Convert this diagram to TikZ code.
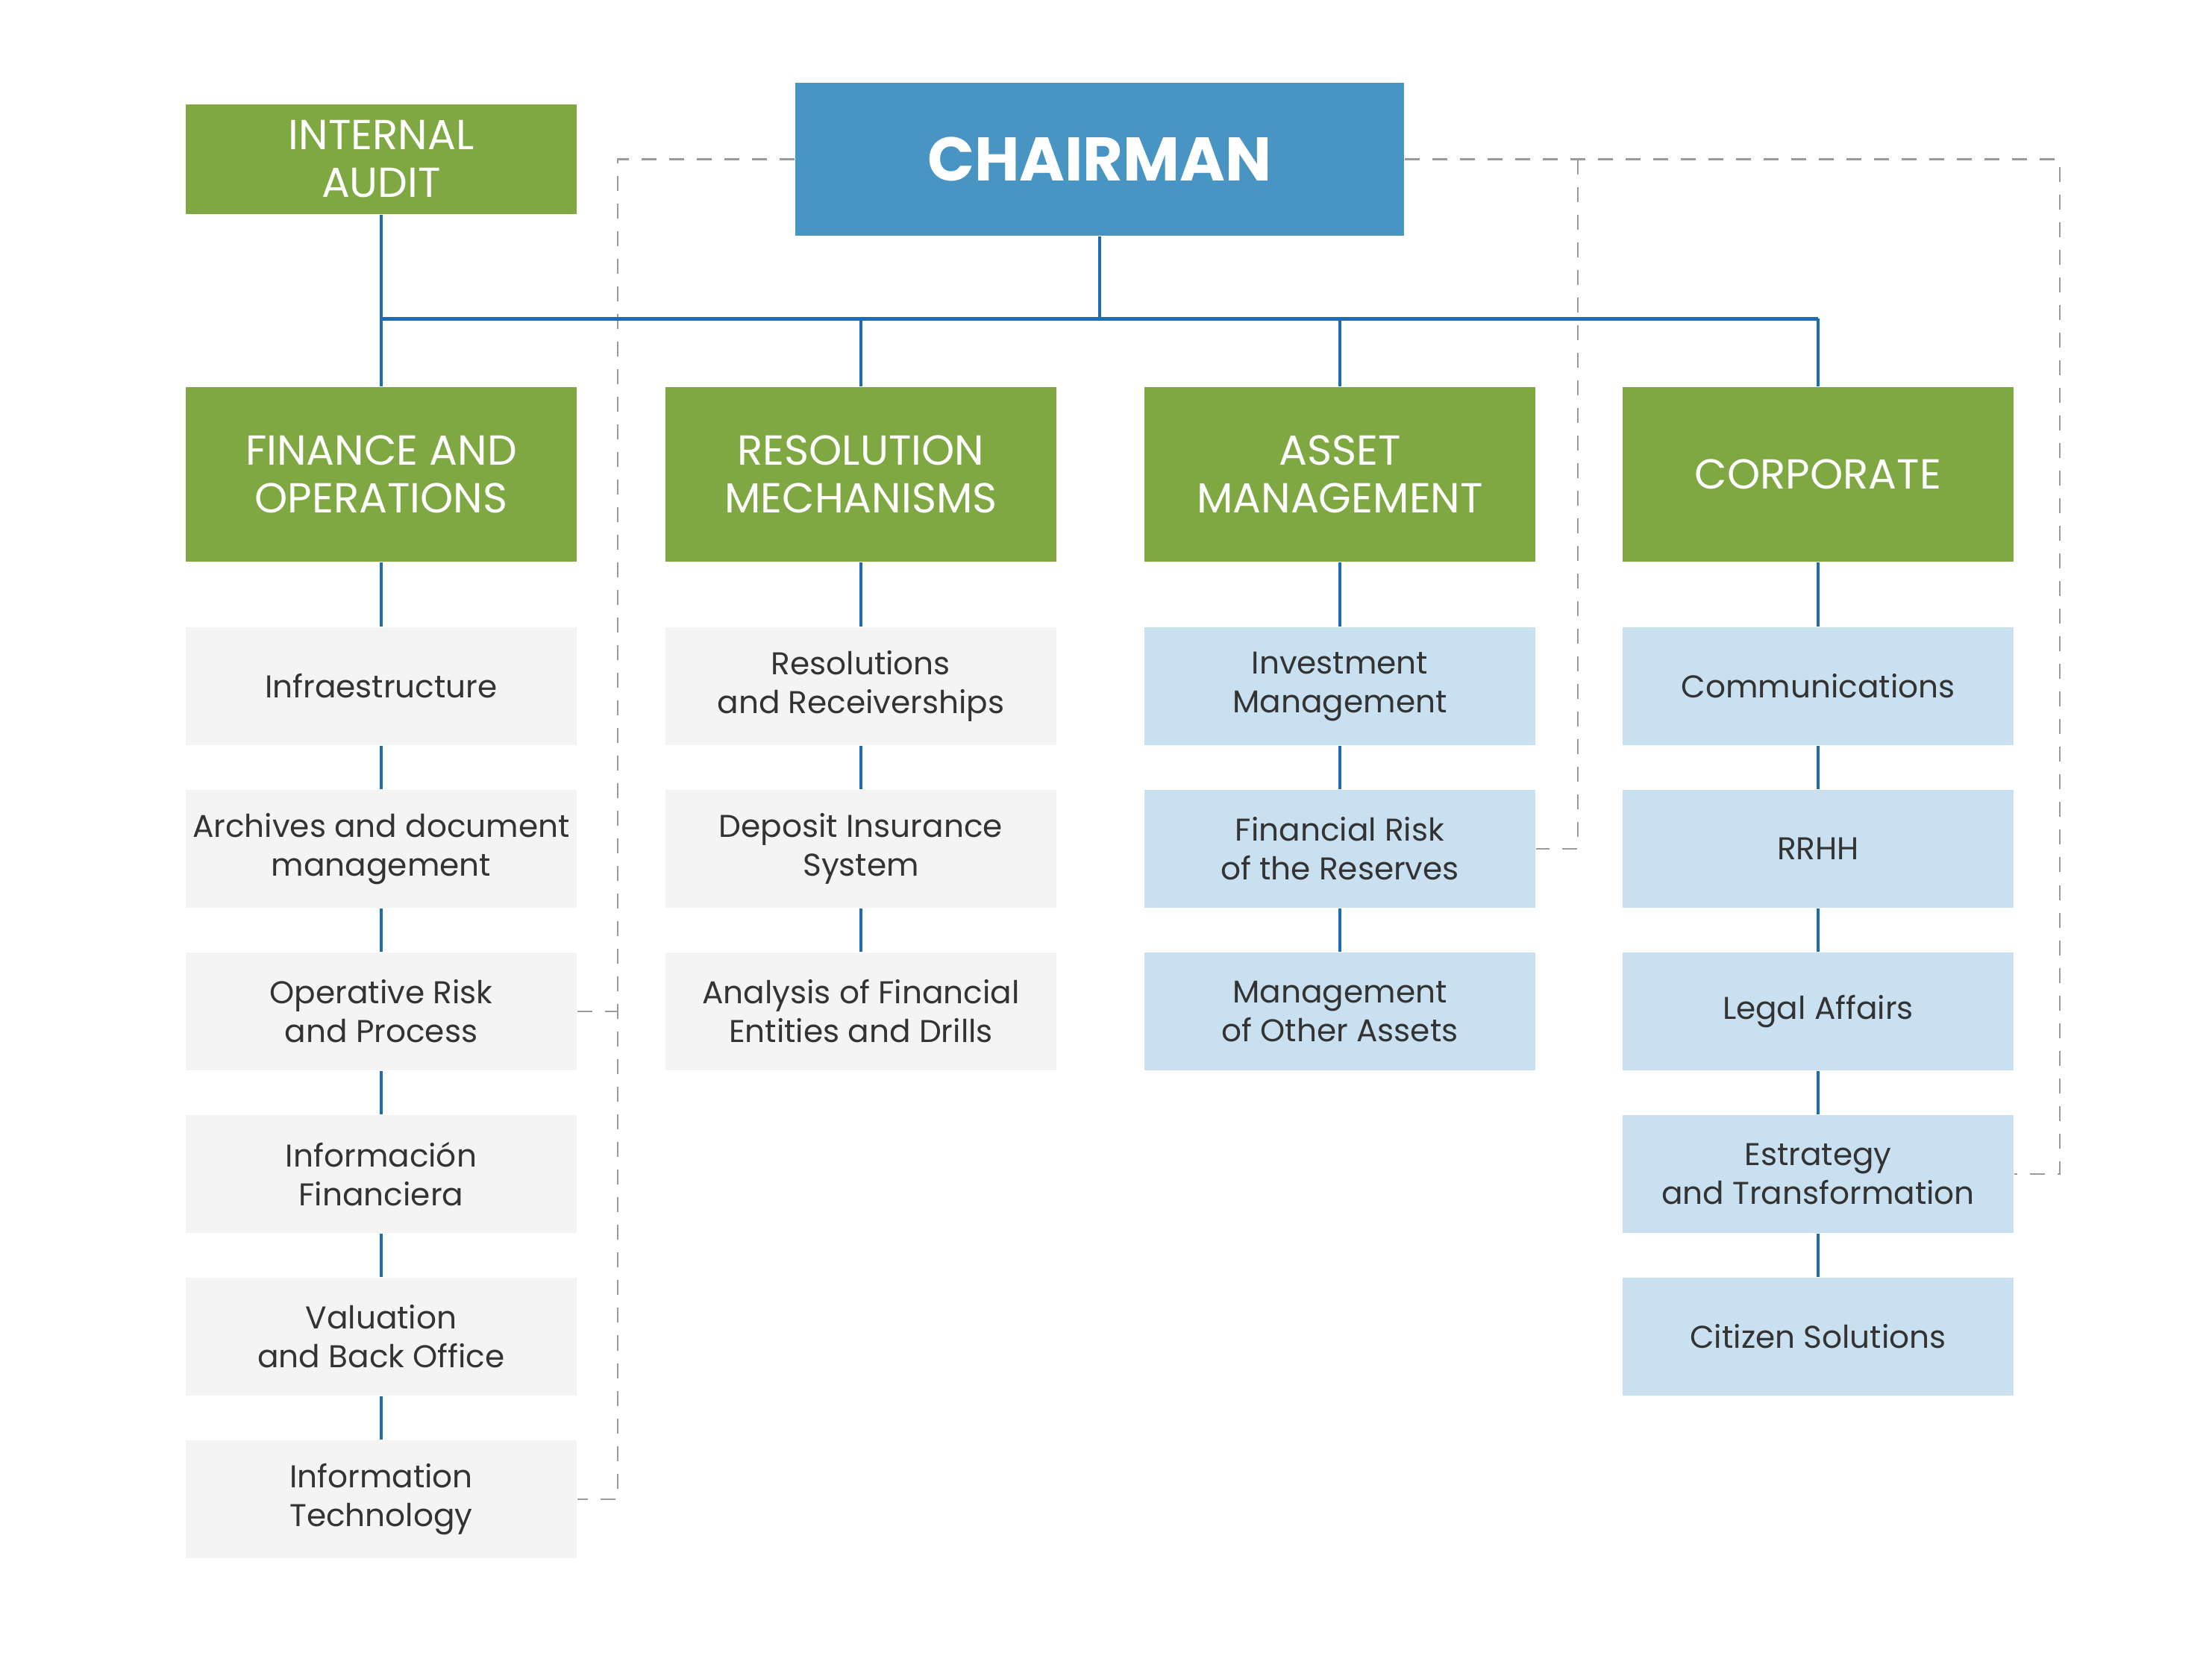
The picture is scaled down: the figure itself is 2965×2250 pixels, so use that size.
\documentclass[tikz,border=0pt]{standalone}
\usepackage{fontspec}
\setmainfont{Poppins}
\usepackage{tikz}
\usetikzlibrary{positioning}

\definecolor{orggreen}{HTML}{7FA843}
\definecolor{orgblue}{HTML}{4894C3}
\definecolor{orgline}{HTML}{1F6DB0}
\definecolor{orggray}{HTML}{F4F4F4}
\definecolor{orglight}{HTML}{C8E0EF}
\definecolor{orgtext}{HTML}{333333}
\definecolor{orgdash}{HTML}{9A9A9A}

\tikzset{
  chairbox/.style={rectangle, fill=orgblue, text=white, minimum width=8.16cm, minimum height=2.05cm,
    font=\fontsize{23.5}{27}\selectfont\bfseries},
  headbox/.style={rectangle, fill=orggreen, text=white, align=center, minimum width=5.24cm, minimum height=2.34cm,
    inner xsep=1pt, font=\fontsize{16}{18.2}\selectfont},
  unitbox/.style={rectangle, fill=orggray, text=orgtext, align=center, minimum width=5.24cm, minimum height=1.58cm,
    inner xsep=1pt, font=\fontsize{12}{14.8}\selectfont},
  sidebox/.style={unitbox, fill=orglight},
  link/.style={draw=orgline, line width=0.04cm},
  buslink/.style={draw=orgline, line width=0.05cm},
  dashlink/.style={draw=orgdash, line width=0.028cm, dash pattern=on 0.2cm off 0.17cm}
}

\begin{document}
\begin{tikzpicture}[x=0.01cm, y=-0.01cm]
        \useasboundingbox (0,0) rectangle (2965,2250);

        % Top nodes
        \node[chairbox] (chair) at (1474, 213.5) {CHAIRMAN};
        \node[headbox, minimum height=1.47cm] (audit) at (511, 213.5) {INTERNAL\\AUDIT};

        % Heads
        \node[headbox] (fin) at (511, 636) {FINANCE AND\\OPERATIONS};
        \node[headbox] (res) at (1154, 636) {RESOLUTION\\MECHANISMS};
        \node[headbox] (asset) at (1796, 636) {ASSET\\MANAGEMENT};
        \node[headbox] (corp) at (2437, 636) {CORPORATE};

        % Finance and operations units
        \node[unitbox] (f1) at (511, 920) {Infraestructure};
        \node[unitbox] (f2) at (511, 1138) {Archives and document\\management};
        \node[unitbox] (f3) at (511, 1356) {Operative Risk\\and Process};
        \node[unitbox] (f4) at (511, 1574) {Información\\Financiera};
        \node[unitbox] (f5) at (511, 1792) {Valuation\\and Back Office};
        \node[unitbox] (f6) at (511, 2010) {Information\\Technology};

        % Resolution units
        \node[unitbox] (r1) at (1154, 920) {Resolutions\\and Receiverships};
        \node[unitbox] (r2) at (1154, 1138) {Deposit Insurance\\System};
        \node[unitbox] (r3) at (1154, 1356) {Analysis of Financial\\Entities and Drills};

        % Asset management units
        \node[sidebox] (a1) at (1796, 920) {Investment\\Management};
        \node[sidebox] (a2) at (1796, 1138) {Financial Risk\\of the Reserves};
        \node[sidebox] (a3) at (1796, 1356) {Management\\of Other Assets};

        % Corporate units
        \node[sidebox] (c1) at (2437, 920) {Communications};
        \node[sidebox] (c2) at (2437, 1138) {RRHH};
        \node[sidebox] (c3) at (2437, 1356) {Legal Affairs};
        \node[sidebox] (c4) at (2437, 1574) {Estrategy\\and Transformation};
        \node[sidebox] (c5) at (2437, 1792) {Citizen Solutions};

        % Helper coordinates
        \coordinate (bus) at (0, 427);
        \coordinate (dl) at (828, 0);
        \coordinate (dr) at (2761, 0);
        \coordinate (db) at (2115, 0);

        % Dashed links
        \draw[dashlink] (chair.west) -| (dl |- f6) -- (f6.east);
        \draw[dashlink] (f3.east) -- (dl |- f3);
        \draw[dashlink] (chair.east) -| (dr |- c4) -- (c4.east);
        \draw[dashlink] (db |- chair.east) |- (a2.east);

        % Main links
        \draw[buslink] (fin.north |- bus) -- (corp.north |- bus);
        \draw[link] (chair) -- (chair |- bus);
        \draw[link] (audit) -- (fin);
        \draw[link] (res |- bus) -- (res);
        \draw[link] (asset |- bus) -- (asset);
        \draw[link] (corp |- bus) -- (corp);

        % Unit links
        \draw[link] (fin) -- (f1);
        \draw[link] (f1) -- (f2);
        \draw[link] (f2) -- (f3);
        \draw[link] (f3) -- (f4);
        \draw[link] (f4) -- (f5);
        \draw[link] (f5) -- (f6);
        \draw[link] (res) -- (r1);
        \draw[link] (r1) -- (r2);
        \draw[link] (r2) -- (r3);
        \draw[link] (asset) -- (a1);
        \draw[link] (a1) -- (a2);
        \draw[link] (a2) -- (a3);
        \draw[link] (corp) -- (c1);
        \draw[link] (c1) -- (c2);
        \draw[link] (c2) -- (c3);
        \draw[link] (c3) -- (c4);
        \draw[link] (c4) -- (c5);

    \end{tikzpicture}
\end{document}
